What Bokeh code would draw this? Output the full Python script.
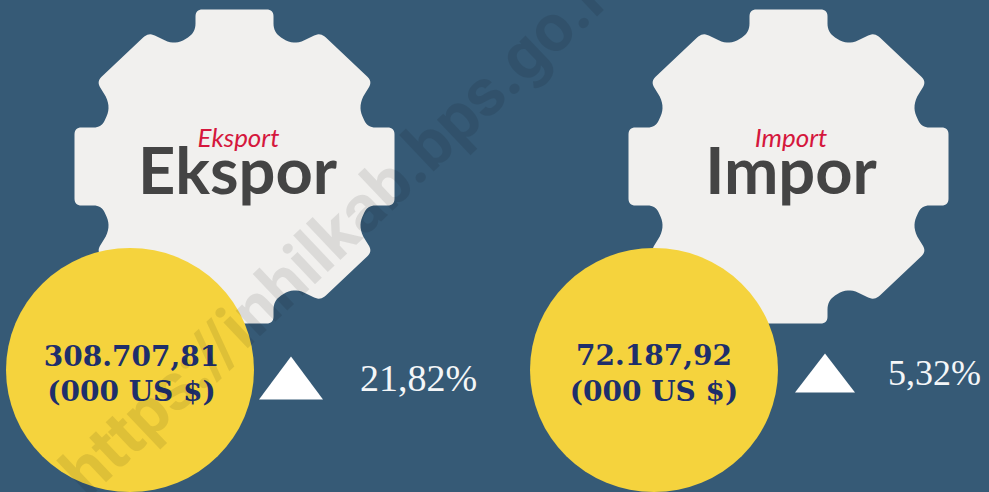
from bokeh.plotting import figure
from bokeh.models import Range1d
from bokeh.core.properties import value
from bokeh.embed import file_html
from bokeh.resources import INLINE
import numpy as np

W, H = 989, 492
BG, GEAR, YELLOW = "#365a76", "#f1f0ee", "#f5d33d"

titles = ["Ekspor", "Impor"]
subtitles = ["Eksport", "Import"]
amounts = ["308.707,81", "72.187,92"]
units = ["(000 US $)", "(000 US $)"]
changes = ["21,82%", "5,32%"]
watermark = "https://inhilkab.bps.go.id"

gear_cx = [234, 788]
gear_cy = [166, 166]
circle_cx = [129.5, 653.5]
circle_cy = [369.5, 369.5]
title_x = [237, 790.5]
sub_x = [238, 790.5]
amount_x = [131, 653.5]
amount_y = [355, 354]
unit_y = [391, 391]
tri_x = [290.5, 824.5]
tri_half = [32, 30]
tri_top = [356, 353]
tri_base = [399, 392]
change_x = [418, 934]
change_y = [377, 372]
change_size = ["38px", "36px"]

# one quarter of the gear outline, relative to its centre
quarter = [(39, -157, 7), (39, -134, 9), (59, -121, 12), (86, -134, 7),
           (138, -85, 7), (123, -61, 14), (133, -39, 8), (160, -39, 7)]


def gear_outline(cx, cy):
    q = quarter
    pts = list(q)
    pts += [(x, -y, r) for x, y, r in reversed(q)]
    pts += [(-x, -y, r) for x, y, r in q]
    pts += [(-x, y, r) for x, y, r in reversed(q)]
    xs, ys = [], []
    n = len(pts)
    for i in range(n):
        p0 = np.array(pts[i - 1][:2], float)
        p1 = np.array(pts[i][:2], float)
        p2 = np.array(pts[(i + 1) % n][:2], float)
        r = pts[i][2]
        a = p1 + (p0 - p1) / np.linalg.norm(p0 - p1) * min(r, np.linalg.norm(p0 - p1) / 2)
        b = p1 + (p2 - p1) / np.linalg.norm(p2 - p1) * min(r, np.linalg.norm(p2 - p1) / 2)
        for t in np.linspace(0, 1, 9):
            c = (1 - t) ** 2 * a + 2 * t * (1 - t) * p1 + t ** 2 * b
            xs.append(c[0] + cx)
            ys.append(c[1] + cy)
    return xs, ys


p = figure(width=W + 1, height=H + 1, x_range=Range1d(-1, W), y_range=Range1d(H, -1),
           output_backend="svg", toolbar_location=None, min_border=0,
           background_fill_color=BG, border_fill_color=BG, outline_line_color=None,
           styles={"position": "absolute", "left": "-1px", "top": "-1px"})
p.axis.visible = False
p.grid.visible = False

for i in range(2):
    gx, gy = gear_outline(gear_cx[i], gear_cy[i])
    p.patch(gx, gy, fill_color=GEAR, line_color=None)
    p.ellipse([circle_cx[i]], [circle_cy[i]], width=248, height=244,
              fill_color=YELLOW, line_color=None)
    p.patch([tri_x[i] - tri_half[i], tri_x[i], tri_x[i] + tri_half[i]],
            [tri_base[i], tri_top[i], tri_base[i]], fill_color="#ffffff", line_color=None)
    p.text([sub_x[i]], [136], text=[subtitles[i]], text_font=value("Lato"), text_font_style="italic",
           text_font_size="26px", text_color="#d5173d", text_align="center", text_baseline="alphabetic")
    p.text([title_x[i]], [168], text=[titles[i]], text_font=value("Lato"), text_font_style="bold",
           text_font_size="65px", text_color="#444444", text_align="center", text_baseline="alphabetic")
    p.text([amount_x[i]], [amount_y[i]], text=[amounts[i]], text_font=value("DejaVu Serif"), text_font_style="bold",
           text_font_size="28px", text_color="#1e2f6b", text_align="center", text_baseline="alphabetic")
    p.text([amount_x[i]], [unit_y[i]], text=[units[i]], text_font=value("DejaVu Serif"), text_font_style="bold",
           text_font_size="28px", text_color="#1e2f6b", text_align="center", text_baseline="alphabetic")
    p.text([change_x[i]], [change_y[i]], text=[changes[i]], text_font=value("Liberation Serif"),
           text_font_size=change_size[i], text_color="#f4f6f8", text_align="center", text_baseline="alphabetic")

p.text([345], [223], text=[watermark], text_font=value("Roboto"), text_font_style="bold",
       text_font_size="67px", text_color="#000000", text_alpha=0.09, text_align="center",
       text_baseline="middle", angle=[np.deg2rad(43.5)])

open("out.html", "w").write(file_html(p, INLINE))
